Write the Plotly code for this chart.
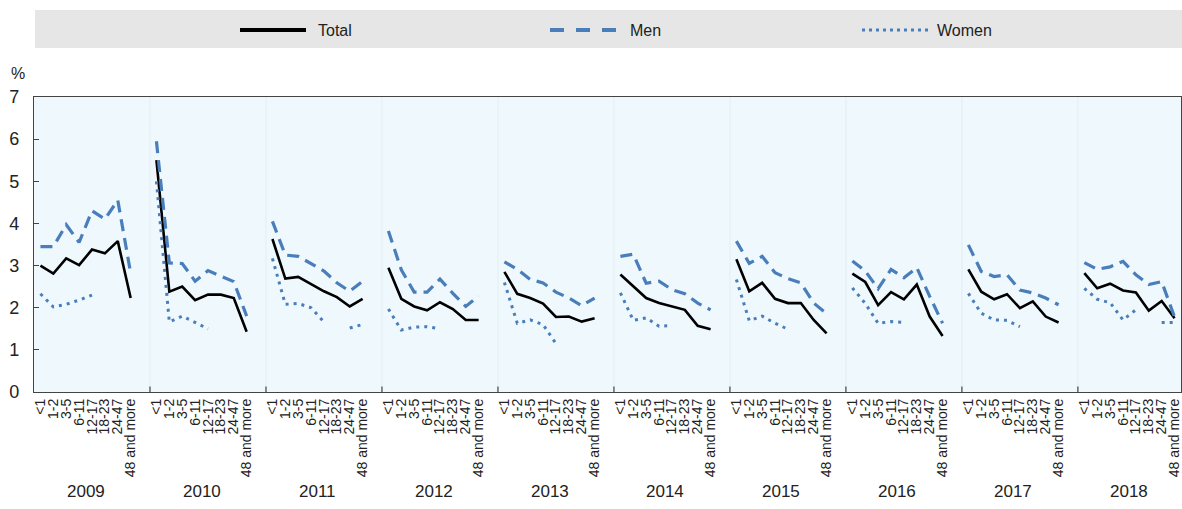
import plotly.graph_objects as go

# Job tenure bands (months) and survey years
tenure = ["<1", "1-2", "3-5", "6-11", "12-17", "18-23", "24-47", "48 and more"]
years = ["2009", "2010", "2011", "2012", "2013", "2014", "2015", "2016", "2017", "2018"]

# Share (%) by year, one list per year following the tenure bands
total_by_year = [
    [3.00, 2.81, 3.17, 3.01, 3.38, 3.29, 3.58, 2.23],
    [5.50, 2.38, 2.50, 2.18, 2.31, 2.31, 2.23, 1.43],
    [3.63, 2.69, 2.73, 2.55, 2.39, 2.25, 2.03, 2.21],
    [2.95, 2.21, 2.03, 1.94, 2.13, 1.97, 1.71, 1.71],
    [2.85, 2.33, 2.23, 2.10, 1.78, 1.79, 1.67, 1.75],
    [2.79, 2.51, 2.23, 2.11, 2.03, 1.95, 1.57, 1.49],
    [3.15, 2.39, 2.59, 2.21, 2.11, 2.11, 1.71, 1.39],
    [2.81, 2.61, 2.06, 2.37, 2.20, 2.55, 1.79, 1.33],
    [2.91, 2.38, 2.20, 2.32, 1.99, 2.15, 1.79, 1.65],
    [2.82, 2.46, 2.57, 2.41, 2.36, 1.93, 2.16, 1.75],
]
men_by_year = [
    [3.45, 3.45, 3.97, 3.55, 4.30, 4.10, 4.55, 2.82],
    [5.95, 3.06, 3.05, 2.63, 2.88, 2.75, 2.62, 1.80],
    [4.05, 3.25, 3.22, 3.05, 2.87, 2.59, 2.39, 2.63],
    [3.82, 2.90, 2.37, 2.37, 2.68, 2.34, 2.03, 2.28],
    [3.09, 2.91, 2.67, 2.59, 2.37, 2.23, 2.05, 2.23],
    [3.22, 3.27, 2.58, 2.63, 2.43, 2.33, 2.11, 1.95],
    [3.58, 3.05, 3.22, 2.83, 2.69, 2.59, 2.11, 1.86],
    [3.11, 2.87, 2.45, 2.91, 2.71, 2.95, 2.27, 1.63],
    [3.49, 2.86, 2.74, 2.78, 2.42, 2.35, 2.23, 2.07],
    [3.07, 2.91, 2.97, 3.10, 2.78, 2.55, 2.62, 1.78],
]
women_by_year = [
    [2.33, 2.02, 2.08, 2.18, 2.30, None, None, None],
    [5.00, 1.66, 1.80, 1.65, 1.50, None, None, None],
    [3.17, 2.08, 2.10, 2.00, 1.66, None, 1.52, 1.60],
    [1.97, 1.47, 1.54, 1.55, 1.50, None, None, None],
    [2.60, 1.63, 1.71, 1.60, 1.15, None, None, None],
    [2.35, 1.70, 1.76, 1.56, 1.58, None, None, None],
    [2.67, 1.69, 1.80, 1.63, 1.49, None, None, None],
    [2.47, 2.10, 1.63, 1.67, 1.65, None, None, None],
    [2.34, 1.87, 1.71, 1.70, 1.55, None, None, None],
    [2.46, 2.20, 2.12, 1.71, 1.95, None, 1.65, 1.65],
]

FONT = "Liberation Sans Narrow, Arial Narrow, Liberation Sans, Arial, sans-serif"
BLUE = "#4a7ebb"
TEXT = "#222222"
SLOT = len(tenure) + 1  # one empty slot separates consecutive years

W, H = 1182, 509
L, R, T, B = 34, 1, 97, 117
PW, PH = W - L - R, H - T - B


def px(xp):
    return (xp - L) / PW


def py(yp):
    return (H - B - yp) / PH


def flatten(rows):
    xs, ys = [], []
    for g, row in enumerate(rows):
        for k, v in enumerate(row):
            xs.append(g * SLOT + k)
            ys.append(v)
        xs.append(g * SLOT + len(row))
        ys.append(None)
    return xs, ys


fig = go.Figure()

series = [
    ("Total", total_by_year, dict(color="black", width=2.6)),
    ("Men", men_by_year, dict(color=BLUE, width=3.2, dash="12px,7px")),
    ("Women", women_by_year, dict(color=BLUE, width=3, dash="3px,5px")),
]
for name, rows, line in series:
    xs, ys = flatten(rows)
    fig.add_trace(go.Scatter(x=xs, y=ys, mode="lines", name=name, line=line,
                             connectgaps=False, showlegend=False, hoverinfo="skip"))

tick_pos, tick_text = [], []
for g in range(len(years)):
    for k, lab in enumerate(tenure):
        tick_pos.append(g * SLOT + k)
        tick_text.append(lab)

shapes = []
annotations = []

# faint separators and small ticks between years
for g in range(1, len(years)):
    xv = g * SLOT - 0.5
    shapes.append(dict(type="line", xref="x", yref="y", x0=xv, x1=xv, y0=0, y1=7,
                       line=dict(color="#e2edf2", width=1), layer="below"))
    shapes.append(dict(type="line", xref="x", yref="y", x0=xv, x1=xv, y0=0, y1=0.13,
                       line=dict(color="#444444", width=1.2)))

# year labels under each group
for g, yr in enumerate(years):
    annotations.append(dict(x=g * SLOT + 3.5, xref="x", y=py(491), yref="paper",
                            text=yr, showarrow=False, xanchor="center", yanchor="middle",
                            font=dict(family=FONT, size=17, color=TEXT)))

# unit label
annotations.append(dict(x=px(18), xref="paper", y=py(74), yref="paper", text="%",
                        showarrow=False, xanchor="center", yanchor="middle",
                        font=dict(family=FONT, size=16, color=TEXT)))

# legend band
shapes.append(dict(type="rect", xref="paper", yref="paper", x0=px(35), x1=px(1182),
                   y0=py(48), y1=py(10), fillcolor="#e6e6e6", line=dict(width=0),
                   layer="below"))
leg_y = py(30)
legend_items = [
    ("Total", 240, 306, 316, dict(color="black", width=4)),
    ("Men", 550, 621, 628, dict(color=BLUE, width=4, dash="14px,12px")),
    ("Women", 862, 929, 935, dict(color=BLUE, width=3, dash="3px,4px")),
]
for name, x0, x1, xt, line in legend_items:
    shapes.append(dict(type="line", xref="paper", yref="paper", x0=px(x0), x1=px(x1),
                       y0=leg_y, y1=leg_y, line=line))
    annotations.append(dict(x=px(xt), xref="paper", y=leg_y, yref="paper", text=name,
                            showarrow=False, xanchor="left", yanchor="middle",
                            font=dict(family=FONT, size=16, color=TEXT)))

fig.update_layout(
    width=W, height=H,
    margin=dict(l=L, r=R, t=T, b=B, pad=0),
    paper_bgcolor="white",
    plot_bgcolor="#eff9fd",
    font=dict(family=FONT, color=TEXT),
    shapes=shapes,
    annotations=annotations,
    showlegend=False,
)
fig.update_xaxes(
    range=[-0.5, len(years) * SLOT - 1.5],
    tickmode="array", tickvals=tick_pos, ticktext=tick_text,
    tickangle=-90, ticks="", tickfont=dict(family=FONT, size=14, color=TEXT),
    ticklabeloverflow="allow",
    showgrid=False, zeroline=False,
    showline=True, linecolor="#444444", linewidth=1.2, mirror=True,
)
fig.update_yaxes(
    range=[0, 7], tickmode="linear", tick0=0, dtick=1,
    ticks="inside", ticklen=5, tickcolor="#444444",
    tickfont=dict(family=FONT, size=18, color=TEXT),
    ticklabelstandoff=10,
    showgrid=False, zeroline=False,
    showline=True, linecolor="#444444", linewidth=1.2, mirror=True,
)

fig.write_html("out.html")
